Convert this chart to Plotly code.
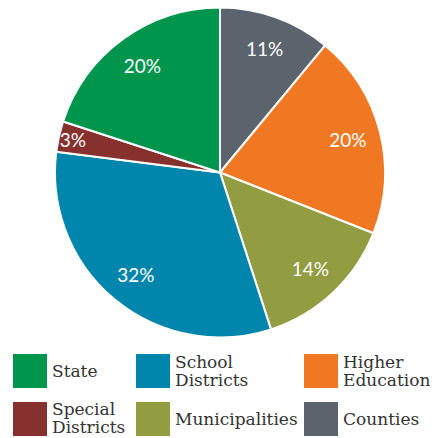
import plotly.graph_objects as go

# Data (clockwise from 12 o'clock)
labels = ["Counties", "Higher Education", "Municipalities", "School Districts", "Special Districts", "State"]
values = [11, 20, 14, 32, 3, 20]
colors = ["#5B646C", "#F07822", "#929C40", "#0085AD", "#87312E", "#00954C"]

# Legend order and text lines (row-major, 3 columns)
legend_order = ["State", "School Districts", "Higher Education", "Special Districts", "Municipalities", "Counties"]
legend_lines = [["State"], ["School", "Districts"], ["Higher", "Education"],
                ["Special", "Districts"], ["Municipalities"], ["Counties"]]

W, H = 443, 438
cx, cy, r = 220, 172.5, 165
dom = dict(x=[(cx - r) / W, (cx + r) / W], y=[1 - (cy + r) / H, 1 - (cy - r) / H])

fig = go.Figure()
# coloured slices
fig.add_trace(go.Pie(
    labels=labels, values=values, sort=False, direction="clockwise", rotation=0,
    marker=dict(colors=colors, line=dict(color="white", width=2)),
    textinfo="none", domain=dom, showlegend=False, hoverinfo="label+percent",
))
# transparent ring used only to place the percentage labels toward the rim
fig.add_trace(go.Pie(
    labels=labels, values=values, sort=False, direction="clockwise", rotation=0, hole=0.6,
    marker=dict(colors=["rgba(0,0,0,0)"] * len(values), line=dict(width=0)),
    texttemplate="%{value}%", textposition="inside", insidetextorientation="horizontal",
    textfont=dict(family="Lato", size=19, color="white"),
    domain=dom, showlegend=False, hoverinfo="skip",
))

col_x = [13, 136, 304]
row_y = [354, 402]
sq = 34
line_gap = 17.5
shapes, annots = [], []
for i, name in enumerate(legend_order):
    col, row = i % 3, i // 3
    x0, y0 = col_x[col], row_y[row]
    c = colors[labels.index(name)]
    shapes.append(dict(type="rect", xref="paper", yref="paper",
                       x0=x0 / W, x1=(x0 + sq) / W, y0=1 - (y0 + sq) / H, y1=1 - y0 / H,
                       fillcolor=c, line=dict(width=0)))
    lines = legend_lines[i]
    n = len(lines)
    for k, t in enumerate(lines):
        yc = y0 + sq / 2 + (k - (n - 1) / 2) * line_gap - (1 if n > 1 and row == 1 else 0)
        annots.append(dict(xref="paper", yref="paper", x=(x0 + sq + 4) / W, y=1 - yc / H,
                           xanchor="left", yanchor="middle", text=t, showarrow=False,
                           borderpad=0,
                           font=dict(family="DejaVu Serif", size=17, color="#333333")))

fig.update_layout(width=W, height=H, margin=dict(l=0, r=0, t=0, b=0),
                  paper_bgcolor="white", plot_bgcolor="white",
                  uniformtext=dict(minsize=19, mode="show"),
                  shapes=shapes, annotations=annots)
fig.write_html("out.html")
